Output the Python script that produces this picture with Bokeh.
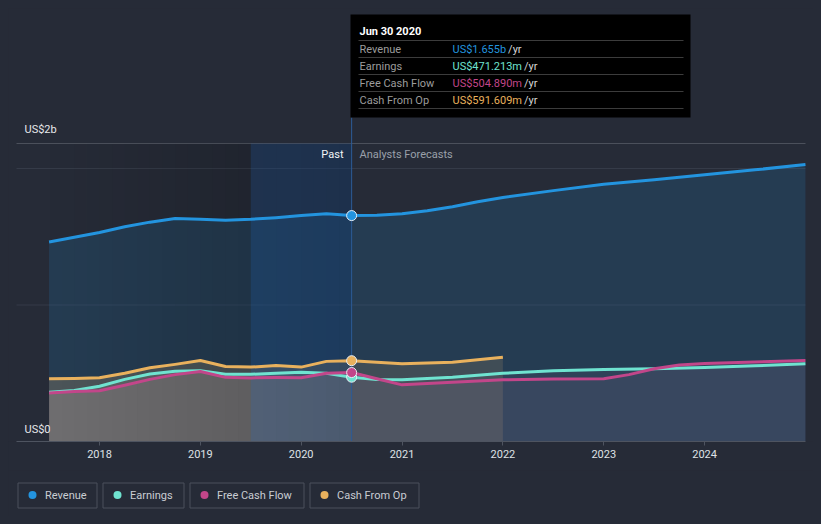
from bokeh.plotting import figure
from bokeh.models import Range1d, FixedTicker
from bokeh.layouts import column
from bokeh.core.properties import value
from bokeh.embed import file_html
from bokeh.resources import INLINE

# ---------------- data (US$ billions, time in fractional years) ----------------
revenue_t = [2017.5, 2017.75, 2018.0, 2018.25, 2018.5, 2018.75, 2019.0, 2019.25, 2019.5,
             2019.75, 2020.0, 2020.25, 2020.5, 2020.75, 2021.0, 2021.25, 2021.5, 2021.75,
             2022.0, 2022.5, 2023.0, 2023.5, 2024.0, 2024.5, 2025.0]
revenue = [1.462, 1.497, 1.531, 1.573, 1.607, 1.633, 1.628, 1.621, 1.628,
           1.640, 1.655, 1.668, 1.655, 1.658, 1.668, 1.690, 1.720, 1.757,
           1.788, 1.838, 1.885, 1.917, 1.954, 1.990, 2.029]

earnings_t = [2017.5, 2017.75, 2018.0, 2018.25, 2018.5, 2018.75, 2019.0, 2019.25, 2019.5,
              2019.75, 2020.0, 2020.25, 2020.5, 2020.75, 2021.0, 2021.5, 2022.0, 2022.5,
              2023.0, 2023.5, 2024.0, 2024.5, 2025.0]
earnings = [0.361, 0.374, 0.405, 0.455, 0.495, 0.515, 0.518, 0.492, 0.492,
            0.500, 0.508, 0.500, 0.471, 0.455, 0.452, 0.471, 0.500, 0.518,
            0.527, 0.533, 0.542, 0.555, 0.569]

fcf_t = [2017.5, 2017.75, 2018.0, 2018.25, 2018.5, 2018.75, 2019.0, 2019.25, 2019.5,
         2019.75, 2020.0, 2020.25, 2020.5, 2020.75, 2021.0, 2021.5, 2022.0, 2022.5,
         2023.0, 2023.25, 2023.5, 2023.75, 2024.0, 2024.5, 2025.0]
fcf = [0.355, 0.366, 0.372, 0.412, 0.455, 0.490, 0.513, 0.470, 0.466,
       0.468, 0.467, 0.500, 0.505, 0.460, 0.415, 0.434, 0.452, 0.457,
       0.459, 0.490, 0.533, 0.560, 0.572, 0.583, 0.593]

cfo_t = [2017.5, 2017.75, 2018.0, 2018.25, 2018.5, 2018.75, 2019.0, 2019.25, 2019.5,
         2019.75, 2020.0, 2020.25, 2020.5, 2020.75, 2021.0, 2021.5, 2022.0]
cfo = [0.459, 0.462, 0.467, 0.500, 0.540, 0.565, 0.593, 0.550, 0.545,
       0.556, 0.545, 0.587, 0.592, 0.580, 0.569, 0.580, 0.618]

year_ticks = [2018, 2019, 2020, 2021, 2022, 2023, 2024]
y_gridlines = [1, 2]
y_tick_labels = ["US$2b", "US$0"]
hover_t = 2020.5
tooltip_date = "Jun 30 2020"
series_names = ["Revenue", "Earnings", "Free Cash Flow", "Cash From Op"]
tooltip_values = ["US$1.655b", "US$471.213m", "US$504.890m", "US$591.609m"]
past_label = "Past"
forecast_label = "Analysts Forecasts"

# ---------------- style ----------------
BG = "#262b37"
C_REV = "#2394df"
C_EARN = "#6fe3d0"
C_FCF = "#c2468a"
C_CFO = "#e9b15d"
colors = [C_REV, C_EARN, C_FCF, C_CFO]
FONT = value("Roboto")

PX_YEAR = 100.85   # pixels per year
PX_B = 136.5       # pixels per US$1b

# approximate Roboto advance widths (em) for positioning the "/yr" suffix
CW = {"U": 0.648, "S": 0.594, "$": 0.5615, ".": 0.263, "b": 0.560, "m": 0.875}


def text_w(s, size=11):
    return sum(CW.get(ch, 0.5615) for ch in s) * size


def X(px):  # page x pixel -> data x
    return 2018 + (px - 99) / PX_YEAR


def Y(py):  # page y pixel -> data y
    return (441 - py) / PX_B


p = figure(width=805, height=462,
           x_range=Range1d(X(8), X(813)), y_range=Range1d(Y(441), Y(8)),
           output_backend="svg", toolbar_location=None,
           x_axis_location="below", y_axis_location=None,
           min_border=0, min_border_bottom=29,
           background_fill_color=BG, border_fill_color=BG, outline_line_color=None)
p.grid.visible = False

# axis
ax = p.xaxis[0]
ax.ticker = FixedTicker(ticks=year_ticks)
ax.bounds = (X(16), X(805))
ax.axis_line_color = "#4e5460"
ax.major_tick_line_color = "#4e5460"
ax.major_tick_out = 4
ax.major_tick_in = 0
ax.minor_tick_out = 0
ax.minor_tick_in = 0
ax.major_label_text_color = "#dfe2e6"
ax.major_label_text_font = "Roboto"
ax.major_label_text_font_size = "11px"
ax.major_label_standoff = 4

# top border line and gridlines
p.segment(x0=X(16), x1=X(805), y0=Y(143), y1=Y(143), line_color="#4b505b", line_width=1)
p.segment(x0=[X(16)] * len(y_gridlines), x1=[X(805)] * len(y_gridlines),
          y0=y_gridlines, y1=y_gridlines, line_color="#8a9ab0", line_alpha=0.15, line_width=1)


def split(t, v):
    i = t.index(hover_t)
    return (t[:i + 1], v[:i + 1]), (t[i:], v[i:])


# fills
p.varea(x=revenue_t, y1=0, y2=revenue, fill_color=C_REV, fill_alpha=0.16)
(cp_t, cp_v), (cf_t, cf_v) = split(cfo_t, cfo)
p.varea(x=cp_t, y1=0, y2=cp_v, fill_color="#6e6a5e", fill_alpha=0.55)
p.varea(x=cf_t, y1=0, y2=cf_v, fill_color="#6e6a5e", fill_alpha=0.38)
for t_, v_ in ((earnings_t, earnings), (fcf_t, fcf)):
    (pt, pv), (ft, fv) = split(t_, v_)
    p.varea(x=pt, y1=0, y2=pv, fill_color="#b09c9c", fill_alpha=0.2)
    p.varea(x=ft, y1=0, y2=fv, fill_color="#9682a0", fill_alpha=0.095)

# past shading (gradient emulated with strips)
past_start = revenue_t[0]
n = 24
w = (hover_t - past_start) / n
for i in range(n):
    p.quad(left=past_start + i * w, right=past_start + (i + 1) * w + 0.0005,
           bottom=0, top=Y(143), fill_color="#000000",
           fill_alpha=0.22 * (i + 0.5) / n, line_color=None)
# highlight of last year before hover date
p.quad(left=hover_t - 1, right=hover_t, bottom=0, top=Y(143),
       fill_color="#1f6fd0", fill_alpha=0.2, line_color=None)
p.segment(x0=hover_t, x1=hover_t, y0=0, y1=Y(117), line_color="#2d5c96", line_width=1)

# lines
p.line(revenue_t, revenue, line_color=C_REV, line_width=3, line_join="round")
p.line(cfo_t, cfo, line_color=C_CFO, line_width=3, line_join="round")
p.line(earnings_t, earnings, line_color=C_EARN, line_width=3, line_join="round")
p.line(fcf_t, fcf, line_color=C_FCF, line_width=3, line_join="round")

# hover dots
dot_vals = [revenue[revenue_t.index(hover_t)], earnings[earnings_t.index(hover_t)],
            fcf[fcf_t.index(hover_t)], cfo[cfo_t.index(hover_t)]]
p.scatter(x=[hover_t] * 4, y=dot_vals, size=10, fill_color=colors,
          line_color="#e8eef5", line_width=1)

# header texts
p.text(x=[X(343)], y=[Y(153.5)], text=[past_label], text_font=FONT, text_font_size="11px",
       text_color="#f2f4f6", text_align="right", text_baseline="middle")
p.text(x=[X(359)], y=[Y(153.5)], text=[forecast_label], text_font=FONT, text_font_size="11px",
       text_color="#9aa0aa", text_align="left", text_baseline="middle")

# y labels
p.text(x=[X(24), X(24)], y=[Y(129), Y(429)], text=y_tick_labels, text_font=FONT,
       text_font_size="11px", text_color="#e6e8eb", text_align="left", text_baseline="middle")

# tooltip
p.quad(left=X(350), right=X(690), top=Y(14), bottom=Y(117), fill_color="#000000",
       line_color=None)
sep_y = [Y(40), Y(57), Y(74), Y(91), Y(108)]
p.segment(x0=[X(358)] * 5, x1=[X(683)] * 5, y0=sep_y, y1=sep_y, line_color="#3c3c3c",
          line_width=1)
p.text(x=[X(359)], y=[Y(31)], text=[tooltip_date], text_font=FONT, text_font_size="11px",
       text_font_style="bold", text_color="#ffffff", text_baseline="middle")
row_y = [Y(48.5), Y(65.5), Y(82.5), Y(99.5)]
p.text(x=[X(359)] * 4, y=row_y, text=series_names, text_font=FONT, text_font_size="11px",
       text_color="#9c9c9c", text_baseline="middle")
p.text(x=[X(452)] * 4, y=row_y, text=tooltip_values, text_font=FONT, text_font_size="11px",
       text_color=colors, text_baseline="middle")
p.text(x=[X(452 + text_w(v) + 2) for v in tooltip_values], y=row_y,
       text=["/yr"] * 4, text_font=FONT, text_font_size="11px",
       text_color="#d6d6d6", text_baseline="middle")

# ---------------- legend figure ----------------
lg = figure(width=805, height=46, x_range=Range1d(0, 805), y_range=Range1d(46, 0),
            output_backend="svg", toolbar_location=None,
            x_axis_location=None, y_axis_location=None, min_border=0,
            background_fill_color=BG, border_fill_color=BG, outline_line_color=None)
lg.grid.visible = False
box_w = [80, 82, 115, 110]
lefts = []
cur = 9
for bw in box_w:
    lefts.append(cur)
    cur += bw + 5
lg.quad(left=[l + 0.5 for l in lefts], right=[l + bw - 0.5 for l, bw in zip(lefts, box_w)],
        top=12.5, bottom=37.5, fill_color=BG, line_color="#4b515c", line_width=1)
lg.scatter(x=[l + 15 for l in lefts], y=[24.5] * 4, size=8, fill_color=colors, line_color=None)
lg.text(x=[l + 27.5 for l in lefts], y=[25] * 4, text=series_names, text_font=FONT,
        text_font_size="11px", text_color="#c9cdd3", text_baseline="middle")

layout = column(p, lg, spacing=0)
html = file_html(layout, INLINE)
html = html.replace(
    "</head>",
    "<style>html,body{background:#262b37 !important;}"
    "body{margin:0 !important;padding:8px !important;}</style></head>")
open("out.html", "w").write(html)
